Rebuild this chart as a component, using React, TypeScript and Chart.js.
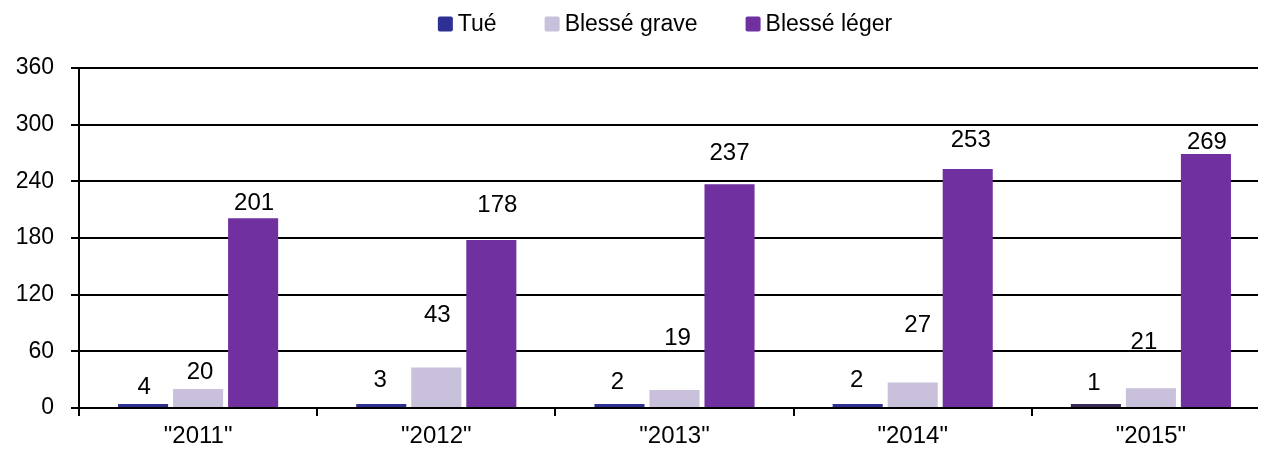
import React, { useEffect, useRef } from "react";
import { Chart, registerables } from "chart.js";

Chart.register(...registerables);

const categories = ['"2011"', '"2012"', '"2013"', '"2014"', '"2015"'];
const tue = [4, 3, 2, 2, 1];
const blesseGrave = [20, 43, 19, 27, 21];
const blesseLeger = [201, 178, 237, 253, 269];
const yTicks = [0, 60, 120, 180, 240, 300, 360];

const seriesNames = ["Tué", "Blessé grave", "Blessé léger"];
const seriesColors = ["#2E3192", "#C9C0DB", "#7030A0"];
const tueColors = ["#2E3192", "#2E3192", "#2E3192", "#2E3192", "#3B2A55"];

// label placement style (pixel offsets above bar top / horizontal shift)
const labelStyle = [
  { dy: [17, 24, 22, 24, 21], dx: [1, -1, -2, -1, -2] },
  { dy: [17, 52, 52, 57, 46], dx: [2, 1, 3, 5, -7] },
  { dy: [15, 35, 31, 29, 12], dx: [1, 6, 0, 3, 1] },
];

const FONT = '"Liberation Sans", Arial, sans-serif';

const labelPlugin = {
  id: "valueLabels",
  afterDatasetsDraw(chart: any) {
    const ctx = chart.ctx;
    ctx.save();
    ctx.font = `24px ${FONT}`;
    ctx.fillStyle = "#000";
    ctx.textAlign = "center";
    ctx.textBaseline = "middle";
    chart.data.datasets.forEach((ds: any, di: number) => {
      const meta = chart.getDatasetMeta(di);
      meta.data.forEach((bar: any, i: number) => {
        const st = labelStyle[di];
        ctx.fillText(String(ds.data[i]), bar.x + st.dx[i], bar.y - st.dy[i]);
      });
    });
    ctx.restore();
  },
};

const legendPlugin = {
  id: "customLegend",
  afterDraw(chart: any) {
    const ctx = chart.ctx;
    ctx.save();
    ctx.font = `23px ${FONT}`;
    ctx.textBaseline = "middle";
    ctx.textAlign = "left";
    const box = 15;
    const gapText = 5;
    const gapItem = 48;
    const widths = seriesNames.map((n) => box + gapText + ctx.measureText(n).width);
    const total = widths.reduce((a, b) => a + b, 0) + gapItem * (seriesNames.length - 1);
    let x = 665 - total / 2;
    const cy = 24;
    seriesNames.forEach((n, i) => {
      ctx.fillStyle = seriesColors[i];
      ctx.beginPath();
      (ctx as any).roundRect(x, cy - box / 2, box, box, 2);
      ctx.fill();
      ctx.fillStyle = "#000";
      ctx.fillText(n, x + box + gapText, cy + 1);
      x += widths[i] + gapItem;
    });
    ctx.restore();
  },
};

export default function App() {
  const ref = useRef<HTMLCanvasElement>(null);
  useEffect(() => {
    if (!ref.current) return;
    const chart = new Chart(ref.current, {
      type: "bar",
      data: {
        labels: categories,
        datasets: [
          { label: seriesNames[0], data: tue, backgroundColor: tueColors, minBarLength: 4 },
          { label: seriesNames[1], data: blesseGrave, backgroundColor: seriesColors[1] },
          { label: seriesNames[2], data: blesseLeger, backgroundColor: seriesColors[2] },
        ],
      },
      options: {
        responsive: false,
        devicePixelRatio: 1,
        animation: false,
        events: [],
        layout: { padding: { left: 0, right: 4, top: 68, bottom: 0 } },
        datasets: { bar: { categoryPercentage: 0.693, barPercentage: 0.91 } },
        plugins: {
          tooltip: { enabled: false },
          legend: { display: false },
        },
        scales: {
          x: {
            grid: {
              display: true,
              drawOnChartArea: false,
              drawTicks: true,
              tickLength: 8,
              color: "#000",
              lineWidth: 2,
              offset: true,
            },
            border: { display: true, color: "#000", width: 2 },
            ticks: {
              color: "#000",
              font: { family: FONT, size: 24 },
              padding: 6,
              maxRotation: 0,
            },
            afterFit: (s: any) => {
              s.height = 44;
            },
          },
          y: {
            min: 0,
            max: 360,
            afterBuildTicks: (s: any) => {
              s.ticks = yTicks.map((v) => ({ value: v }));
            },
            grid: {
              color: "#000",
              lineWidth: 2,
              tickLength: 8,
              drawTicks: true,
            },
            border: { display: true, color: "#000", width: 2 },
            ticks: {
              color: "#000",
              font: { family: FONT, size: 23 },
              padding: 17,
            },
            afterFit: (s: any) => {
              s.width = 79;
            },
          },
        },
      },
      plugins: [labelPlugin, legendPlugin],
    });
    return () => chart.destroy();
  }, []);
  return (
    <div style={{ margin: -8, width: 1266, height: 452, overflow: "hidden" }}>
      <canvas ref={ref} width={1274} height={452} style={{ display: "block" }} />
    </div>
  );
}
